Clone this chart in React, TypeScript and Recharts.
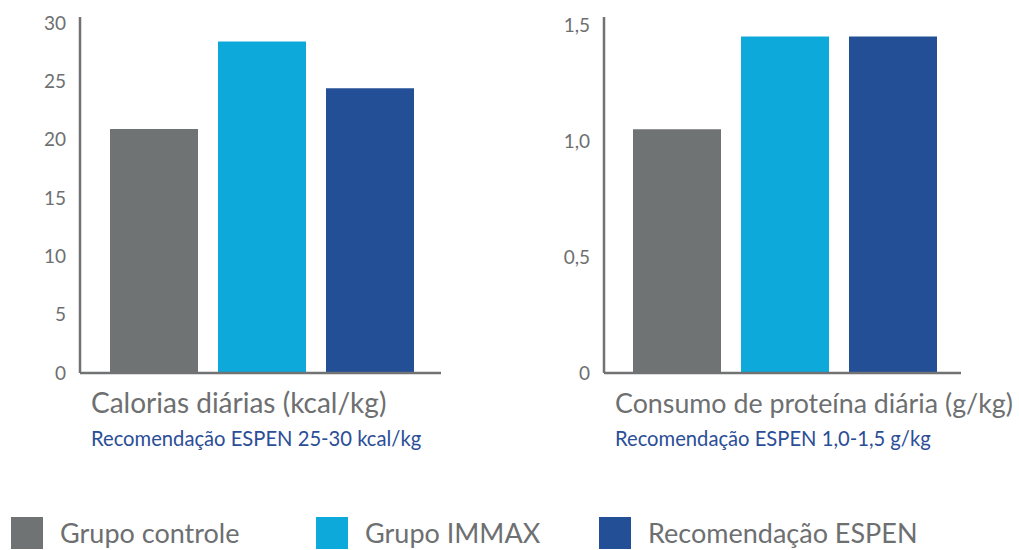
import React from 'react';
import { BarChart, Bar, XAxis, YAxis } from 'recharts';

const seriesNames = ['Grupo controle', 'Grupo IMMAX', 'Recomendação ESPEN'];
const seriesColors = ['#707374', '#0ea9db', '#234f96'];
const seriesKeys = ['controle', 'immax', 'espen'];

const calorieValues = [20.9, 28.4, 24.4];
const proteinValues = [1.05, 1.45, 1.45];

const calorieTicks = [0, 5, 10, 15, 20, 25, 30];
const calorieTickLabels = ['0', '5', '10', '15', '20', '25', '30'];
const proteinTicks = [0, 0.5, 1, 1.5];
const proteinTickLabels = ['0', '0,5', '1,0', '1,5'];

const chartTitles = ['Calorias diárias (kcal/kg)', 'Consumo de proteína diária (g/kg)'];
const chartSubtitles = ['Recomendação ESPEN 25-30 kcal/kg', 'Recomendação ESPEN 1,0-1,5 g/kg'];

const FONT = 'Lato, "Open Sans", sans-serif';
const AXIS_COLOR = '#707274';
const TEXT_GREY = '#6d6f71';
const SUB_BLUE = '#2b4e97';

function buildRow(values: number[]) {
  const row: Record<string, number | string> = { name: 'g' };
  seriesKeys.forEach((k, i) => (row[k] = values[i]));
  return [row];
}

type PanelProps = {
  left: number;
  width: number;
  marginLeft: number;
  marginRight: number;
  padLeft: number;
  catGap: number;
  values: number[];
  ticks: number[];
  tickLabels: string[];
  domainMax: number;
  title: string;
  titleSize: number;
  subtitle: string;
};

function Panel(p: PanelProps) {
  const data = buildRow(p.values);
  const height = 470;
  const renderLabel = (props: any) => {
    const vb = props.viewBox || {};
    const x = (vb.x ?? 0) + 11;
    const y = vb.y ?? 0;
    return (
      <g>
        <text x={x} y={y + 40} fill={TEXT_GREY} fontSize={p.titleSize} fontFamily={FONT}>
          {p.title}
        </text>
        <text x={x} y={y + 73} fill={SUB_BLUE} fontSize={20.2} fontFamily={FONT}>
          {p.subtitle}
        </text>
      </g>
    );
  };
  return (
    <div style={{ position: 'absolute', left: p.left, top: 0 }}>
      <BarChart
        width={p.width}
        height={height}
        data={data}
        margin={{ top: 17, right: p.marginRight, bottom: height - 373 - 90, left: p.marginLeft }}
        barCategoryGap={p.catGap}
        barGap={20}
      >
        <XAxis
          dataKey="name"
          height={90}
          tick={false}
          tickLine={false}
          padding={{ left: p.padLeft, right: 0 }}
          axisLine={{ stroke: AXIS_COLOR, strokeWidth: 2.5 }}
          label={{ content: renderLabel }}
        />
        <YAxis
          width={60}
          domain={[0, p.domainMax]}
          ticks={p.ticks}
          interval={0}
          tickFormatter={(v: number) => p.tickLabels[p.ticks.indexOf(v)] ?? String(v)}
          tickLine={false}
          tickSize={0}
          tickMargin={14}
          axisLine={{ stroke: AXIS_COLOR, strokeWidth: 2.5 }}
          tick={{ fill: TEXT_GREY, fontSize: 19, fontFamily: FONT }}
        />
        {seriesKeys.map((k, i) => (
          <Bar key={k} dataKey={k} name={seriesNames[i]} fill={seriesColors[i]} barSize={88} isAnimationActive={false} />
        ))}
      </BarChart>
    </div>
  );
}

const legendX = [11, 316, 599];

export default function App() {
  return (
    <div style={{ position: 'absolute', left: 0, top: 0, width: 1019, height: 550, background: '#fff', overflow: 'hidden', fontFamily: FONT }}>
      <Panel
        left={0}
        width={470}
        marginLeft={20}
        marginRight={29}
        padLeft={3}
        catGap={27}
        values={calorieValues}
        ticks={calorieTicks}
        tickLabels={calorieTickLabels}
        domainMax={30.5}
        title={chartTitles[0]}
        titleSize={28}
        subtitle={chartSubtitles[0]}
      />
      <Panel
        left={520}
        width={499}
        marginLeft={24}
        marginRight={58}
        padLeft={5}
        catGap={24}
        values={proteinValues}
        ticks={proteinTicks}
        tickLabels={proteinTickLabels}
        domainMax={1.534}
        title={chartTitles[1]}
        titleSize={26.8}
        subtitle={chartSubtitles[1]}
      />
      {seriesNames.map((n, i) => (
        <div key={n} style={{ position: 'absolute', left: legendX[i], top: 517, height: 32, display: 'flex', alignItems: 'center' }}>
          <div style={{ width: 32, height: 32, background: seriesColors[i] }} />
          <span style={{ marginLeft: 17, fontSize: 27, color: TEXT_GREY, lineHeight: '32px', whiteSpace: 'nowrap' }}>{n}</span>
        </div>
      ))}
    </div>
  );
}
